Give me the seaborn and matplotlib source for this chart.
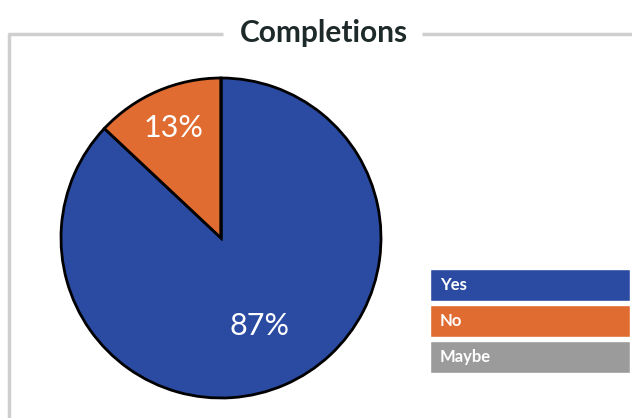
import matplotlib
matplotlib.use("Agg")
import matplotlib.pyplot as plt
import seaborn as sns
import numpy as np

categories = ["Yes", "No", "Maybe"]
values = [87, 13, 0]
colors = ["#2A4BA1", "#E06C31", "#9B9B9B"]
title = "Completions"

sns.set_theme(style="white")
plt.rcParams['font.family'] = ['Lato', 'DejaVu Sans']

W, H = 632, 418
fig = plt.figure(figsize=(W / 100, H / 100), dpi=100)

def fx(x):
    return x / W

def fy(y):
    return 1 - y / H

# frame lines
line_c = "#CFCFCF"
fig.add_artist(plt.Line2D([fx(8), fx(223)], [fy(34), fy(34)], color=line_c, lw=2.5, solid_capstyle="butt"))
fig.add_artist(plt.Line2D([fx(422), fx(632)], [fy(34), fy(34)], color=line_c, lw=2.5, solid_capstyle="butt"))
fig.add_artist(plt.Line2D([fx(8.5), fx(8.5)], [fy(33), fy(418)], color=line_c, lw=2.5, solid_capstyle="butt"))
fig.text(fx(324), fy(33), title, ha="center", va="center", fontsize=21.5, fontweight="bold", color="#1E2A2A")

# pie
ax = fig.add_axes([fx(61), 1 - 398 / H, 320 / W, 320 / H])
wedges, texts, autotexts = ax.pie(
    values, colors=colors, startangle=90, counterclock=False,
    autopct=lambda p: f"{p:.0f}%" if p > 0 else "",
    pctdistance=0.75,
    wedgeprops=dict(edgecolor="black", linewidth=2),
    textprops=dict(color="white", fontsize=22),
)
# move the large-slice label closer to centre
for t, v in zip(autotexts, values):
    if v == max(values):
        x, y = t.get_position()
        t.set_position((x * 0.8, y * 0.8))
ax.set_aspect("equal")
ax.set_xlim(-1.0, 1.0)
ax.set_ylim(-1.0, 1.0)

# legend as colored bars
lax = fig.add_axes([fx(430), 1 - 375 / H, 200 / W, 108 / H])
ypos = np.arange(len(categories))
lax.barh(ypos, [1] * len(categories), color=colors, height=0.88, left=0)
for yp, c in zip(ypos, categories):
    lax.text(0.05, yp, c, color="white", fontsize=12, fontweight="bold", va="center", ha="left")
lax.set_xlim(0, 1)
lax.set_ylim(len(categories) - 0.5, -0.5)
lax.axis("off")

fig.savefig("out.png", dpi=100)
